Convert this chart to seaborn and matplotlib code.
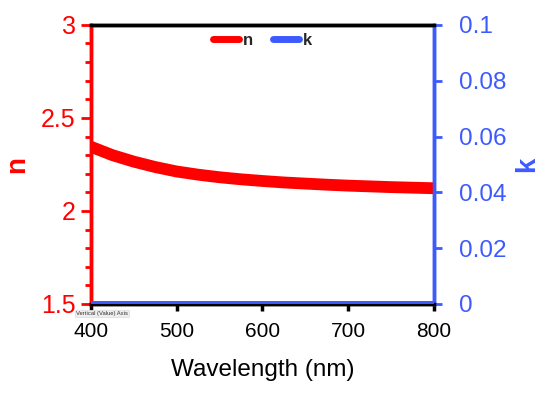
import numpy as np
import pandas as pd
import matplotlib
matplotlib.use("Agg")
import matplotlib.pyplot as plt
import seaborn as sns
from matplotlib.ticker import MultipleLocator

# Data
wavelength = [400, 425, 450, 475, 500, 525, 550, 575, 600, 625, 650, 675, 700, 725, 750, 775, 800]
n_values = [2.345, 2.300, 2.265, 2.236, 2.212, 2.195, 2.181, 2.170, 2.161, 2.153, 2.147, 2.141, 2.136, 2.132, 2.128, 2.125, 2.122]
k_values = [0.0] * len(wavelength)

df = pd.DataFrame({"wl": wavelength, "n": n_values, "k": k_values})

sns.set_theme(style="white")
plt.rcParams['font.family'] = ['Liberation Sans', 'DejaVu Sans']

RED = "#ff0000"
BLUE = "#3d5afe"

fig = plt.figure(figsize=(5.54, 4.01), dpi=100)
ax = fig.add_axes([0.164, 0.242, 0.619, 0.696])
ax2 = ax.twinx()

sns.lineplot(data=df, x="wl", y="k", ax=ax2, color=BLUE, linewidth=5, label="k", legend=False, zorder=3)
sns.lineplot(data=df, x="wl", y="n", ax=ax, color=RED, linewidth=8.5, label="n", legend=False, zorder=3)

ax.set_xlim(400, 800)
ax.set_ylim(1.5, 3)
ax2.set_ylim(0, 0.1)
ax.set_xticks([400, 500, 600, 700, 800])
ax.set_yticks([1.5, 2, 2.5, 3])
ax.set_yticklabels(["1.5", "2", "2.5", "3"])
ax.yaxis.set_minor_locator(MultipleLocator(0.1))
ax2.set_yticks([0, 0.02, 0.04, 0.06, 0.08, 0.1])
ax2.set_yticklabels(["0", "0.02", "0.04", "0.06", "0.08", "0.1"])

ax.set_xlabel("Wavelength (nm)", fontsize=17.5, labelpad=13, color="black")
ax.set_ylabel("n", fontsize=20, fontweight="bold", color=RED, labelpad=8)
ax2.set_ylabel("k", fontsize=20, fontweight="bold", color=BLUE, labelpad=6)

ax.tick_params(axis="x", direction="out", length=5, width=2.5, colors="black", labelsize=15, pad=8, bottom=True)
ax.tick_params(axis="y", which="major", direction="out", length=7, width=2, colors=RED, labelsize=18, pad=4, left=True)
ax.tick_params(axis="y", which="minor", direction="out", length=4, width=2, colors=RED, left=True)
ax2.tick_params(axis="y", direction="out", length=6, width=2, colors=BLUE, labelsize=17.5, pad=12, right=True)

for a in (ax, ax2):
    a.spines["top"].set_color("black")
    a.spines["top"].set_linewidth(2.5)
    a.spines["bottom"].set_color("black")
    a.spines["bottom"].set_linewidth(2.5)
    a.spines["left"].set_color(RED)
    a.spines["left"].set_linewidth(2.5)
    a.spines["right"].set_color(BLUE)
    a.spines["right"].set_linewidth(2.5)
ax.grid(False)
ax2.grid(False)

h1, l1 = ax.get_legend_handles_labels()
h2, l2 = ax2.get_legend_handles_labels()
leg = ax.legend(h1 + h2, l1 + l2, loc="upper center", bbox_to_anchor=(0.5, 1.0), ncol=2, frameon=False,
                prop={"weight": "bold", "size": 12}, handlelength=1.6, handletextpad=0.2, columnspacing=1.2,
                borderaxespad=0.1)
for line in leg.get_lines():
    line.set_linewidth(5)

fig.text(0.138, 0.217, "Vertical (Value) Axis", fontsize=4.2, color="#333333", ha="left", va="center",
         bbox=dict(boxstyle="round,pad=0.2", facecolor="#eeeeee", edgecolor="#dddddd", linewidth=0.5))

fig.savefig("out.png", dpi=100)
